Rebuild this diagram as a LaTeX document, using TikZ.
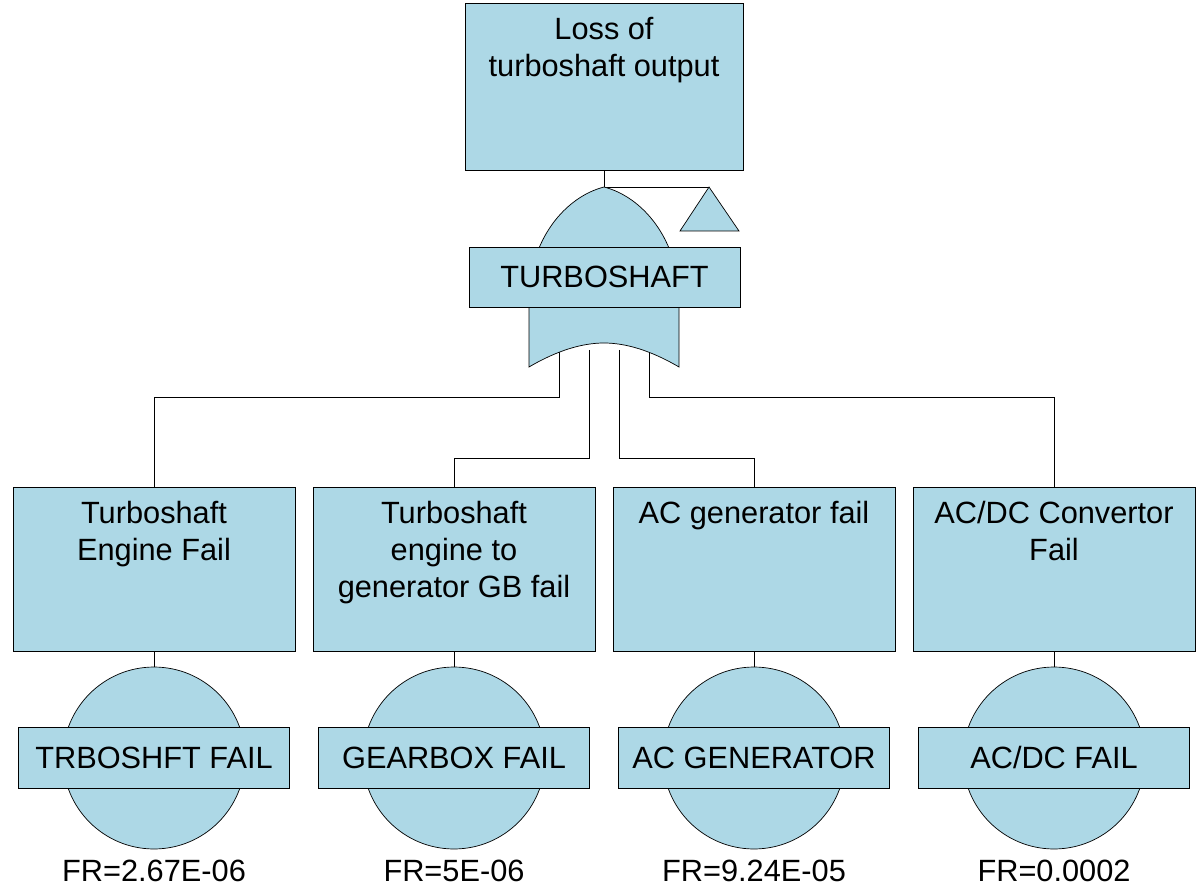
\documentclass[tikz,border=0pt]{standalone}
\usepackage{fontspec}
\setmainfont{Liberation Sans}
\definecolor{ftblue}{RGB}{173,216,230}
\newcommand{\evtext}[2]{\parbox[c][#1][t]{5.5cm}{\centering\vspace{0.28cm}#2}}
\begin{document}
\begin{tikzpicture}[x=0.02cm,y=-0.02cm,
  every node/.style={font=\fontsize{17.5}{21}\selectfont},
  evbox/.style={draw,fill=ftblue,inner sep=0pt,minimum width=5.64cm,minimum height=3.28cm},
  tagbox/.style={draw,fill=ftblue,inner sep=0pt,minimum width=5.42cm,minimum height=1.22cm},
  basic/.style={draw,fill=ftblue,circle,inner sep=0pt,minimum size=3.64cm}]
  \useasboundingbox (0,0) rectangle (1196,891);
  % Top event
  \node[evbox,minimum width=5.56cm,minimum height=3.34cm] (top) at (604,87)
    {\evtext{3.34cm}{Loss of\\turboshaft output}};
  % Intermediate events
  \node[evbox] (e1) at (154,569) {\evtext{3.28cm}{Turboshaft\\Engine Fail}};
  \node[evbox] (e2) at (454,569) {\evtext{3.28cm}{Turboshaft\\engine to\\generator GB fail}};
  \node[evbox] (e3) at (754,569) {\evtext{3.28cm}{AC generator fail}};
  \node[evbox] (e4) at (1054,569) {\evtext{3.28cm}{AC/DC Convertor\\Fail}};
  % Gate inputs and transfer point
  \coordinate (gtop) at (604,187);
  \coordinate (xfer) at (709,187);
  \coordinate (in1) at (559,350);
  \coordinate (in2) at (589,350);
  \coordinate (in3) at (619,350);
  \coordinate (in4) at (649,350);
  \draw (top.south) -- (gtop) -- (xfer);
  \draw[fill=ftblue] (xfer) -- (739,231) -- (680,231) -- cycle;
  \draw (in1) -- ++(0,47) -| (e1.north);
  \draw (in2) -- ++(0,108) -| (e2.north);
  \draw (in3) -- ++(0,108) -| (e3.north);
  \draw (in4) -- ++(0,47) -| (e4.north);
  % OR gate
  \draw[fill=ftblue] (529,367) -- (529,300) .. controls (529,240) and (565,197) .. (gtop)
    .. controls (643,197) and (679,240) .. (679,300) -- (679,367)
    .. controls (650,350) and (625,343) .. (604,343)
    .. controls (583,343) and (558,350) .. (529,367) -- cycle;
  \node[tagbox,minimum height=1.2cm] (gate) at (604.5,277) {TURBOSHAFT};
  % Basic events
  \node[basic] (b1) at (154,758) {};
  \node[basic] (b2) at (454,758) {};
  \node[basic] (b3) at (754,758) {};
  \node[basic] (b4) at (1054,758) {};
  \draw (e1.south) -- (b1.north);
  \draw (e2.south) -- (b2.north);
  \draw (e3.south) -- (b3.north);
  \draw (e4.south) -- (b4.north);
  \node[tagbox] (t1) at (154,757.5) {TRBOSHFT FAIL};
  \node[tagbox] (t2) at (454,757.5) {GEARBOX FAIL};
  \node[tagbox] (t3) at (754,757.5) {AC GENERATOR};
  \node[tagbox] (t4) at (1054,757.5) {AC/DC FAIL};
  \node[anchor=base] (fr1) at (154,881) {FR=2.67E-06};
  \node[anchor=base] (fr2) at (454,881) {FR=5E-06};
  \node[anchor=base] (fr3) at (754,881) {FR=9.24E-05};
  \node[anchor=base] (fr4) at (1054,881) {FR=0.0002};
\end{tikzpicture}
\end{document}
